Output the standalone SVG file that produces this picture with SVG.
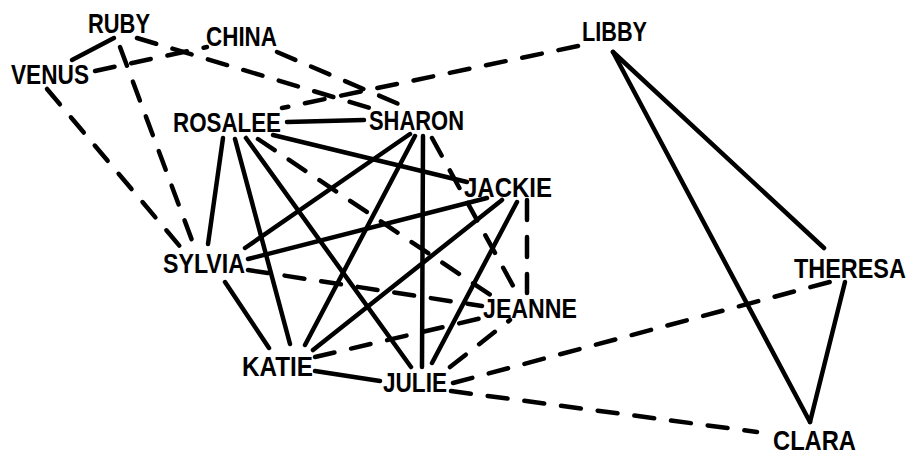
<svg xmlns="http://www.w3.org/2000/svg" width="918" height="456" viewBox="0 0 918 456">
<style>
.bg{fill:#fff}
.e{stroke:#000;stroke-width:4.5;stroke-linecap:round;fill:none}
.d{stroke-dasharray:20 17}
.n text{font-family:"Liberation Sans",Arial,sans-serif;font-weight:bold;font-size:28px;fill:#000}
</style>
<rect class="bg" width="918" height="456"/>
<g id="connectors">
<line class="e" x1="114" y1="38" x2="72" y2="60"/>
<line class="e" x1="287" y1="122" x2="364" y2="120"/>
<line class="e" x1="273" y1="135" x2="467" y2="182"/>
<line class="e" x1="223" y1="138" x2="208" y2="244"/>
<line class="e" x1="235" y1="139" x2="290" y2="344"/>
<line class="e" x1="246" y1="138" x2="411" y2="367"/>
<line class="e" x1="410" y1="134" x2="245" y2="248"/>
<line class="e" x1="415" y1="136" x2="305" y2="345"/>
<line class="e" x1="423" y1="136" x2="422" y2="367"/>
<line class="e" x1="248" y1="259" x2="487" y2="198"/>
<line class="e" x1="313" y1="350" x2="502" y2="200"/>
<line class="e" x1="432" y1="363" x2="517" y2="202"/>
<line class="e" x1="225" y1="282" x2="269" y2="348"/>
<line class="e" x1="315" y1="371" x2="380" y2="381"/>
<line class="e" x1="613" y1="52" x2="824" y2="248"/>
<line class="e" x1="613" y1="52" x2="810" y2="422"/>
<line class="e" x1="845" y1="282" x2="810" y2="422"/>
<line class="e d" x1="95" y1="71" x2="207" y2="47"/>
<line class="e d" x1="47" y1="89" x2="183" y2="250"/>
<line class="e d" x1="120" y1="47" x2="193" y2="243"/>
<line class="e d" x1="137" y1="38" x2="370" y2="108"/>
<line class="e d" x1="277" y1="52" x2="408" y2="108"/>
<line class="e d" x1="578" y1="46" x2="282" y2="108"/>
<line class="e d" x1="258" y1="139" x2="492" y2="296"/>
<line class="e d" x1="432" y1="138" x2="517" y2="293"/>
<line class="e d" x1="527" y1="200" x2="527" y2="293"/>
<line class="e d" x1="248" y1="270" x2="482" y2="306"/>
<line class="e d" x1="315" y1="357" x2="482" y2="318"/>
<line class="e d" x1="450" y1="367" x2="510" y2="320"/>
<line class="e d" x1="453" y1="383" x2="837" y2="280"/>
<line class="e d" x1="451" y1="391" x2="757" y2="432"/>
</g>
<g class="n">
<g id="ruby"><text x="88" y="33" textLength="62" lengthAdjust="spacingAndGlyphs">RUBY</text></g>
<g id="china"><text x="206" y="46" textLength="71" lengthAdjust="spacingAndGlyphs">CHINA</text></g>
<g id="venus"><text x="11" y="84" textLength="78" lengthAdjust="spacingAndGlyphs">VENUS</text></g>
<g id="libby"><text x="582" y="41" textLength="65" lengthAdjust="spacingAndGlyphs">LIBBY</text></g>
<g id="rosalee"><text x="173" y="132" textLength="108" lengthAdjust="spacingAndGlyphs">ROSALEE</text></g>
<g id="sharon"><text x="369" y="130" textLength="95" lengthAdjust="spacingAndGlyphs">SHARON</text></g>
<g id="jackie"><text x="464" y="197" textLength="88" lengthAdjust="spacingAndGlyphs">JACKIE</text></g>
<g id="sylvia"><text x="163" y="273" textLength="82" lengthAdjust="spacingAndGlyphs">SYLVIA</text></g>
<g id="jeanne"><text x="483" y="318" textLength="94" lengthAdjust="spacingAndGlyphs">JEANNE</text></g>
<g id="theresa"><text transform="translate(794 278) scale(0.837 1)" x="0" y="0" font-size="27">THERESA</text></g>
<g id="katie"><text x="242" y="376" textLength="71" lengthAdjust="spacingAndGlyphs">KATIE</text></g>
<g id="julie"><text x="383" y="392" textLength="64" lengthAdjust="spacingAndGlyphs">JULIE</text></g>
<g id="clara"><text x="773" y="450" font-size="27" textLength="83" lengthAdjust="spacingAndGlyphs">CLARA</text></g>
</g>
</svg>
